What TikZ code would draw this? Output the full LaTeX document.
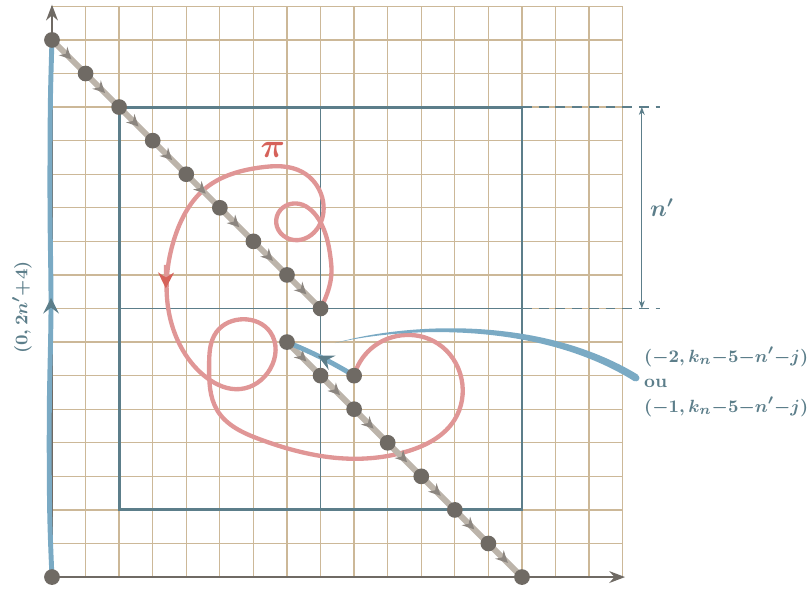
\documentclass[tikz,border=0pt]{standalone}
\usepackage{amsmath}
\usepackage{amssymb}
\usepackage{xcolor}
\usepackage{tikz}
\usetikzlibrary{arrows.meta,decorations.markings,hobby}

\definecolor{gridtan}{RGB}{204,184,152}
\definecolor{boxteal}{RGB}{92,126,138}
\definecolor{pathblue}{RGB}{122,170,196}
\definecolor{pathred}{RGB}{224,150,150}
\definecolor{pired}{RGB}{214,98,90}
\definecolor{steppath}{RGB}{188,180,170}
\definecolor{steptip}{RGB}{140,134,128}
\definecolor{dotgray}{RGB}{111,106,100}

\tikzset{
  latdot/.style={circle, fill=dotgray, inner sep=0pt, minimum size=8pt},
  stepline/.style={draw=steppath, line width=3pt, postaction={decorate},
    decoration={markings, mark=at position 0.58 with
      {\arrow[steptip]{Stealth[length=6pt, width=6pt, inset=2pt]}}}},
  bluepath/.style={draw=pathblue, line width=2.5pt, line cap=round},
  bluetip/.style={postaction={decorate},
    decoration={markings, mark=at position #1 with
      {\arrow[boxteal]{Stealth[length=8pt, width=8pt, inset=3pt]}}}},
  redpath/.style={draw=pathred, line width=2.2pt, line cap=round},
  teallabel/.style={text=boxteal, font=\fontsize{9.4}{12.7}\selectfont\boldmath},
}

\begin{document}
\begin{tikzpicture}[x=0.6cm, y=0.6cm]
  \useasboundingbox (-1.549,-0.387) rectangle (22.55,17.19);
  % Grid
  \draw[gridtan, line width=0.65pt, step={(1,1)}] (0,0) grid (17,17);
  % Box with its middle lines
  \coordinate (sw) at (2,2);
  \coordinate (ne) at (14,14);
  \draw[boxteal, line width=0.6pt] (8,2) -- (8,14) (2,8) -- (14,8);
  \draw[boxteal, line width=1.5pt] (sw) rectangle (ne);
  % Height n'
  \draw[boxteal, line width=0.7pt, dash pattern=on 5pt off 3.5pt] (14,14) -- (18.1,14) (14,8) -- (18.1,8);
  \coordinate (htop) at (17.57,14);
  \coordinate (hbot) at (17.57,8);
  \draw[boxteal, line width=0.5pt, {Stealth[length=4pt,width=3pt]}-{Stealth[length=4pt,width=3pt]}] (htop) -- (hbot);
  \node[teallabel, font=\large\boldmath] (nlab) at (18.17,11) {$n'$};
  % Axes
  \coordinate (o) at (0,0);
  \coordinate (xend) at (17.07,0);
  \coordinate (yend) at (0,17.05);
  \draw[dotgray, line width=1pt, -{Stealth[length=8pt,width=6pt]}] (o) -- (xend);
  \draw[dotgray, line width=1pt, -{Stealth[length=8pt,width=6pt]}] (o) -- (yend);
  % Lattice points
  \foreach \i in {0,...,8} \coordinate (t\i) at (\i,16-\i);
  \foreach \i in {0,...,7} \coordinate (b\i) at (7+\i,7-\i);
  \coordinate (r) at (9,6);
  % Left side path
  \draw[bluepath, bluetip=0.52] plot[smooth, tension=0.6] coordinates {(0,0) (-0.07,2) (-0.08,5) (-0.03,8) (-0.06,11) (-0.05,14) (0,16)};
  % Path pi
  \draw[redpath, use Hobby shortcut] (8,8) .. (8.32,9.3) .. (7.95,10.65) .. (7.25,11.13)
    .. (6.68,10.65) .. (7.2,10.04) .. (7.95,10.45) .. (8.05,11.3) .. (7.45,12.07)
    .. (6.2,12.2) .. (4.62,11.62) .. (3.65,10.1) .. (3.42,8.4) .. (3.9,6.75)
    .. (4.62,5.93) .. (5.6,5.6) .. (6.5,6.2) .. (6.5,7.3) .. (5.7,7.68) .. (4.9,7.3)
    .. (4.68,6.3) .. (4.92,4.97) .. (6.2,4.1) .. (8.58,3.54) .. (10.6,3.75)
    .. (12.0,4.7) .. (12.2,5.9) .. (11.5,6.95) .. (10.4,7.2) .. (9.5,6.8) .. (9,6);
  \draw[pathred, line width=2.2pt, -{Stealth[length=8pt, width=8pt, inset=2.5pt, color=pired]}] (3.4,9.3) -- (3.39,8.6);
  % Diagonal steps
  \foreach \i [evaluate=\i as \j using int(\i+1)] in {0,...,7} \draw[stepline] (t\i) -- (t\j);
  \foreach \i [evaluate=\i as \j using int(\i+1)] in {0,...,6} \draw[stepline] (b\i) -- (b\j);
  % Blue link and tail
  \draw[bluepath, bluetip=0.55] (r) to[bend right=4] (b0);
  \coordinate (tail) at (17.40,5.93);
  \fill[pathblue] (17.45,6.03) .. controls (14.5,7.82) and (10.5,7.56) .. (8.43,6.97)
    .. controls (10.5,7.46) and (14.5,7.62) .. (17.35,5.83) -- cycle;
  \fill[pathblue] (tail) circle (0.1);
  % Dots
  \foreach \p in {o,r,t0,t1,t2,t3,t4,t5,t6,t7,t8,b0,b1,b2,b3,b4,b5,b6,b7}
    \node[latdot] (dot-\p) at (\p) {};
  % Labels
  \node[pired, font=\LARGE\boldmath] (pilab) at (6.58,12.72) {$\pi$};
  \node[teallabel, rotate=90] (ylab) at (-0.89,8.03) {$(0,2n'{+}4)$};
  \node[teallabel, anchor=west, align=left, inner sep=0pt] (jlab) at (17.63,5.81)
    {$(-2,k_n{-}5{-}n'{-}j)$\\\textbf{ou}\\$(-1,k_n{-}5{-}n'{-}j)$};
\end{tikzpicture}
\end{document}
